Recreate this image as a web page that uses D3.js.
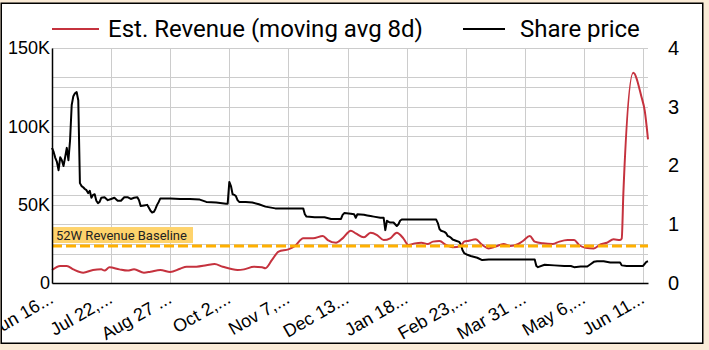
<!DOCTYPE html>
<html>
<head>
<meta charset="utf-8">
<script src="https://cdn.jsdelivr.net/npm/d3@7"></script>
<style>
  html, body { margin: 0; padding: 0; background: #faebd7; }
  svg { display: block; }
</style>
</head>
<body>
<svg id="chart" width="709" height="350"></svg>
<script>
// ---- data ----
const priceDates = [
  "2022-06-16","2022-06-17","2022-06-18","2022-06-19","2022-06-20","2022-06-21","2022-06-22","2022-06-23",
  "2022-06-24","2022-06-25","2022-06-26","2022-06-27","2022-06-28","2022-06-29","2022-06-30","2022-07-01",
  "2022-07-02","2022-07-03","2022-07-04","2022-07-05","2022-07-06","2022-07-07","2022-07-08","2022-07-09",
  "2022-07-10","2022-07-11","2022-07-12","2022-07-13","2022-07-14","2022-07-15","2022-07-16","2022-07-18",
  "2022-07-20","2022-07-22","2022-07-24","2022-07-26","2022-07-28","2022-07-30","2022-08-01","2022-08-03",
  "2022-08-05","2022-08-07","2022-08-08","2022-08-09","2022-08-11","2022-08-13","2022-08-14","2022-08-15",
  "2022-08-16","2022-08-17","2022-08-18","2022-08-19","2022-08-20","2022-08-21","2022-08-23","2022-08-27",
  "2022-09-02","2022-09-08","2022-09-14","2022-09-18","2022-09-24","2022-09-30","2022-10-01","2022-10-02",
  "2022-10-03","2022-10-04","2022-10-05","2022-10-06","2022-10-07","2022-10-08","2022-10-12","2022-10-16",
  "2022-10-20","2022-10-24","2022-10-30","2022-11-03","2022-11-09","2022-11-15","2022-11-16","2022-11-17",
  "2022-11-18","2022-11-23","2022-11-29","2022-12-03","2022-12-07","2022-12-09","2022-12-10","2022-12-11",
  "2022-12-15","2022-12-17","2022-12-18","2022-12-19","2022-12-23","2022-12-25","2022-12-27","2022-12-29",
  "2023-01-02","2023-01-04","2023-01-05","2023-01-06","2023-01-07","2023-01-08","2023-01-10","2023-01-12",
  "2023-01-13","2023-01-14","2023-01-15","2023-01-18","2023-01-24","2023-01-30","2023-02-05","2023-02-06",
  "2023-02-07","2023-02-08","2023-02-10","2023-02-11","2023-02-12","2023-02-13","2023-02-14","2023-02-15",
  "2023-02-17","2023-02-19","2023-02-20","2023-02-21","2023-02-22","2023-02-24","2023-02-26","2023-03-02",
  "2023-03-05","2023-03-09","2023-03-13","2023-03-23","2023-04-02","2023-04-04","2023-04-06","2023-04-07",
  "2023-04-08","2023-04-12","2023-04-18","2023-04-24","2023-04-28","2023-04-30","2023-05-04","2023-05-08",
  "2023-05-10","2023-05-12","2023-05-14","2023-05-18","2023-05-22","2023-05-26","2023-05-28","2023-05-29",
  "2023-06-01","2023-06-07","2023-06-11","2023-06-13","2023-06-14"
];
const priceValues = [
  2.30,2.23,2.13,2.06,1.92,2.14,2.09,1.99,
  2.14,2.30,2.09,2.43,3.03,3.18,3.23,3.25,
  3.11,1.70,1.65,1.63,1.60,1.58,1.53,1.57,
  1.45,1.50,1.51,1.40,1.36,1.38,1.45,1.46,
  1.41,1.43,1.45,1.40,1.40,1.46,1.46,1.43,
  1.45,1.46,1.41,1.31,1.32,1.33,1.28,1.23,
  1.20,1.21,1.26,1.33,1.38,1.44,1.44,1.44,
  1.43,1.43,1.42,1.38,1.37,1.35,1.35,1.72,
  1.65,1.51,1.50,1.48,1.41,1.38,1.38,1.37,
  1.34,1.30,1.27,1.27,1.27,1.27,1.27,1.17,
  1.13,1.12,1.12,1.09,1.09,1.09,1.16,1.19,
  1.18,1.17,1.11,1.17,1.16,1.15,1.14,1.13,
  1.11,1.11,0.90,1.06,1.04,1.03,1.03,0.97,
  1.00,1.06,1.08,1.08,1.08,1.08,1.08,1.02,
  0.92,0.89,0.87,0.85,0.80,0.79,0.77,0.74,
  0.72,0.70,0.66,0.56,0.51,0.48,0.46,0.43,
  0.39,0.40,0.40,0.40,0.40,0.40,0.40,0.29,
  0.27,0.31,0.30,0.29,0.29,0.27,0.28,0.28,
  0.32,0.36,0.37,0.37,0.35,0.35,0.35,0.30,
  0.29,0.29,0.29,0.36,0.37
];

const revenueDates = [
  "2022-06-16","2022-06-21","2022-06-25","2022-06-29","2022-07-05","2022-07-11","2022-07-16","2022-07-18",
  "2022-07-21","2022-07-27","2022-08-01","2022-08-05","2022-08-11","2022-08-15","2022-08-21","2022-08-27",
  "2022-09-02","2022-09-06","2022-09-12","2022-09-18","2022-09-23","2022-09-28","2022-10-07","2022-10-11",
  "2022-10-17","2022-10-22","2022-10-24","2022-10-28","2022-11-01","2022-11-07","2022-11-11","2022-11-16",
  "2022-11-22","2022-11-28","2022-12-01","2022-12-06","2022-12-10","2022-12-15","2022-12-18","2022-12-23",
  "2022-12-27","2022-12-31","2023-01-04","2023-01-08","2023-01-12","2023-01-16","2023-01-19","2023-01-23",
  "2023-01-27","2023-01-31","2023-02-03","2023-02-07","2023-02-11","2023-02-15","2023-02-20","2023-02-22",
  "2023-02-25","2023-03-01","2023-03-05","2023-03-09","2023-03-13","2023-03-18","2023-03-22","2023-03-27",
  "2023-03-30","2023-04-03","2023-04-06","2023-04-11","2023-04-17","2023-04-21","2023-04-26","2023-04-30",
  "2023-05-03","2023-05-07","2023-05-12","2023-05-16","2023-05-20","2023-05-24","2023-05-28","2023-05-29",
  "2023-05-30","2023-06-05","2023-06-10","2023-06-12","2023-06-14"
];
const revenueValues = [
  8300,10900,10900,8700,6600,8300,8700,7900,
  10000,8700,7900,8700,6600,7200,8300,7000,
  9100,10400,10400,11300,12100,10400,8300,8700,
  10400,10000,9400,14700,20000,21500,23600,28500,
  28500,30000,27400,25700,28500,33400,31700,29200,
  32100,30600,27400,28500,32100,28500,24300,25300,
  25700,24900,26400,26800,24300,22800,23600,26400,
  27000,27900,24300,22100,23200,24900,23600,24900,
  27000,30000,26400,25300,24900,26400,27400,27400,
  24300,22500,22000,24600,25700,27900,27400,28400,
  57400,134200,118900,110000,91700
];

const tickDates = ["2022-06-16","2022-07-22","2022-08-27","2022-10-02","2022-11-07","2022-12-13",
                   "2023-01-18","2023-02-23","2023-03-31","2023-05-06","2023-06-11"];
const tickLabels = ["Jun 16...","Jul 22,...","Aug 27 ...","Oct 2,...","Nov 7,...","Dec 13...",
                    "Jan 18...","Feb 23,...","Mar 31 ...","May 6,...","Jun 11..."];
const leftTicks = [0, 50000, 100000, 150000];
const leftTickLabels = ["0", "50K", "100K", "150K"];
const rightTicks = [0, 1, 2, 3, 4];
const seriesNames = ["Est. Revenue (moving avg 8d)", "Share price"];
const baselineValue = 23600;
const baselineLabel = "52W Revenue Baseline";

// ---- layout ----
const plot = { left: 52, right: 648, top: 48, bottom: 283 };
const revColor = "#c5323e";
const priceColor = "#000000";
const baseColor = "#ffb000";
const gridColor = "#cccccc";
const tickFont = "'Liberation Sans', Arial, sans-serif";
const legendFont = "Roboto, 'Noto Sans', sans-serif";

const parse = d3.utcParse("%Y-%m-%d");
const svg = d3.select("#chart");

// card frame
svg.append("rect")
  .attr("x", 1.25).attr("y", 3.25).attr("width", 701.5).attr("height", 340)
  .attr("fill", "#ffffff").attr("stroke", "#000").attr("stroke-width", 1.5);

svg.append("clipPath").attr("id", "card")
  .append("rect").attr("x", 2).attr("y", 4).attr("width", 700).attr("height", 338.5);

const root = svg.append("g").attr("clip-path", "url(#card)");

const x = d3.scaleUtc()
  .domain([parse("2022-06-16"), parse("2023-06-14")])
  .range([plot.left, plot.right]);
const yL = d3.scaleLinear().domain([0, 150000]).range([plot.bottom, plot.top]);
const yR = d3.scaleLinear().domain([0, 4]).range([plot.bottom, plot.top]);

// grid
const grid = root.append("g").attr("stroke", gridColor).attr("stroke-width", 1).attr("shape-rendering", "crispEdges");
d3.range(0, 150001, 25000).forEach(v => {
  grid.append("line").attr("x1", plot.left).attr("x2", plot.right)
    .attr("y1", Math.round(yL(v)) + 0.5).attr("y2", Math.round(yL(v)) + 0.5);
});
d3.range(0, 4.01, 0.5).forEach(v => {
  grid.append("line").attr("x1", plot.left).attr("x2", plot.right)
    .attr("y1", Math.round(yR(v)) + 0.5).attr("y2", Math.round(yR(v)) + 0.5);
});
tickDates.forEach(d => {
  const px = Math.round(x(parse(d))) + 0.5;
  grid.append("line").attr("x1", px).attr("x2", px).attr("y1", plot.top).attr("y2", plot.bottom);
});

// series
const revData = revenueDates.map((d, i) => ({ date: parse(d), value: revenueValues[i] }));
const priceData = priceDates.map((d, i) => ({ date: parse(d), value: priceValues[i] }));

root.append("path").datum(priceData)
  .attr("fill", "none").attr("stroke", priceColor).attr("stroke-width", 2)
  .attr("stroke-linejoin", "round")
  .attr("d", d3.line().x(d => x(d.date)).y(d => yR(d.value)));

root.append("path").datum(revData)
  .attr("fill", "none").attr("stroke", revColor).attr("stroke-width", 2)
  .attr("stroke-linejoin", "round")
  .attr("d", d3.line().curve(d3.curveMonotoneX).x(d => x(d.date)).y(d => yL(d.value)));

// baseline annotation
const by = yL(baselineValue);
root.append("line")
  .attr("x1", plot.left).attr("x2", plot.right).attr("y1", by).attr("y2", by)
  .attr("stroke", baseColor).attr("stroke-width", 3).attr("stroke-dasharray", "10,4");
root.append("rect")
  .attr("x", plot.left + 1).attr("y", by - 19).attr("width", 140).attr("height", 16)
  .attr("fill", "#fed36c");
root.append("text")
  .attr("x", plot.left + 4).attr("y", by - 6.5)
  .attr("font-family", legendFont).attr("font-size", 13).attr("fill", "#222")
  .text(baselineLabel);

// axes
const axL = root.append("g").attr("transform", `translate(${plot.left},0)`)
  .call(d3.axisLeft(yL).tickValues(leftTicks).tickFormat((d, i) => leftTickLabels[i])
    .tickSize(0).tickPadding(2));
axL.select(".domain").attr("stroke", "#000").attr("stroke-width", 1.5);
axL.selectAll("text").attr("font-family", tickFont).attr("font-size", 18).attr("fill", "#000");

const axR = root.append("g").attr("transform", `translate(${plot.right},0)`)
  .call(d3.axisRight(yR).tickValues(rightTicks).tickFormat(d3.format("d"))
    .tickSize(0).tickPadding(20));
axR.select(".domain").remove();
axR.selectAll("text").attr("font-family", tickFont).attr("font-size", 20).attr("fill", "#000");

const axB = root.append("g").attr("transform", `translate(0,${plot.bottom})`)
  .call(d3.axisBottom(x).tickValues(tickDates.map(parse))
    .tickFormat((d, i) => tickLabels[i]).tickSize(0).tickSizeOuter(0));
axB.select(".domain").attr("stroke", "#000").attr("stroke-width", 1.5);
axB.selectAll("text")
  .attr("y", 0).attr("dy", 0)
  .attr("text-anchor", "end")
  .attr("transform", "translate(2,19) rotate(-30)")
  .attr("font-family", tickFont).attr("font-size", 18).attr("fill", "#000");

// legend
const legendItems = [
  { name: seriesNames[0], color: revColor, x1: 52, x2: 99, tx: 108 },
  { name: seriesNames[1], color: priceColor, x1: 463, x2: 505, tx: 520 }
];
const lg = root.append("g");
legendItems.forEach(it => {
  lg.append("line").attr("x1", it.x1).attr("x2", it.x2).attr("y1", 29).attr("y2", 29)
    .attr("stroke", it.color).attr("stroke-width", 2);
  lg.append("text").attr("x", it.tx).attr("y", 29).attr("dy", "0.35em")
    .attr("font-family", legendFont).attr("font-size", 24).attr("fill", "#000")
    .text(it.name);
});
</script>
</body>
</html>
